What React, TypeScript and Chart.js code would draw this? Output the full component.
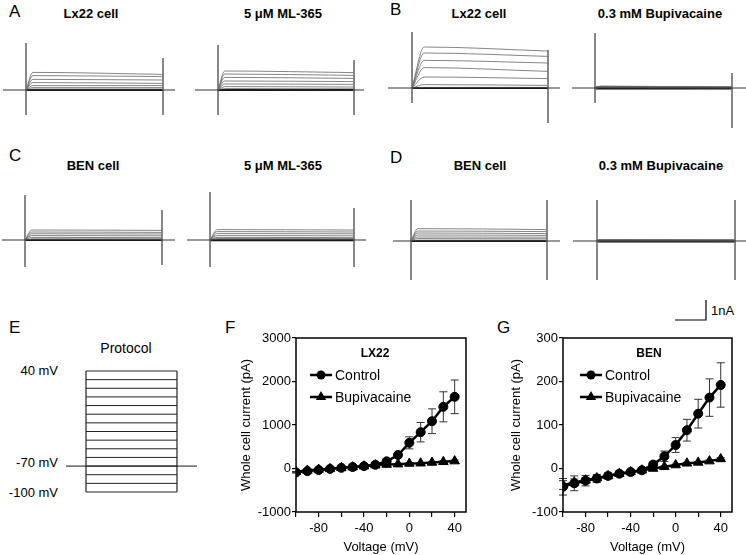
import React, { useEffect, useRef } from 'react';
import { Chart, registerables } from 'chart.js';
Chart.register(...registerables);

const FONT = '"Liberation Sans", Arial, Helvetica, sans-serif';
const NA_PX = 20; // pixels per nA in the current traces

// ---------- data ----------
const stepVoltages = [-100, -90, -80, -70, -60, -50, -40, -30, -20, -10, 0, 10, 20, 30, 40];
const holdingVoltage = -70;

// I-V data (pA)
const lx22Control = [-90, -60, -35, -10, 15, 35, 55, 85, 165, 310, 590, 835, 1087, 1418, 1648];
const lx22ControlErr = [15, 12, 10, 8, 8, 8, 8, 10, 20, 45, 138, 223, 284, 345, 387];
const lx22Bupi = [-77, -46, -23, -8, 15, 31, 54, 77, 90, 100, 115, 122, 138, 154, 170];
const lx22BupiErr = [10, 10, 10, 10, 10, 10, 10, 10, 10, 10, 15, 15, 20, 20, 25];

const benControl = [-42, -34, -28, -23, -17, -12, -8, -4, 9, 28, 54, 88, 126, 163, 192];
const benControlErr = [19, 17, 12, 9, 7, 6, 5, 4, 6, 12, 17, 25, 33, 43, 51];
const benBupi = [-38, -32, -27, -22, -17, -12, -8, -4, 0, 4, 8, 12, 14, 17, 22];
const benBupiErr = [10, 8, 6, 5, 4, 3, 3, 2, 2, 2, 2, 2, 2, 3, 3];

// current traces (nA) for steps -20..40 mV (lower steps sit on the baseline)
const traceVoltages = [-20, -10, 0, 10, 20, 30, 40];
const a1Start = [0.05, 0.12, 0.22, 0.37, 0.53, 0.72, 0.88];
const a1End = [0.05, 0.12, 0.22, 0.33, 0.5, 0.67, 0.78];
const a2Start = [0.07, 0.17, 0.3, 0.45, 0.63, 0.8, 0.95];
const a2End = [0.06, 0.15, 0.28, 0.42, 0.58, 0.73, 0.87];
const b1Start = [0.03, 0.17, 0.55, 1.02, 1.38, 1.75, 2.05];
const b1End = [0.03, 0.13, 0.47, 0.83, 1.25, 1.58, 1.85];
const b2Start = [0.02, 0.02, 0.03, 0.04, 0.05, 0.07, 0.1];
const b2End = [0.01, 0.01, 0.02, 0.02, 0.02, 0.03, 0.03];
const c1Start = [0.03, 0.06, 0.13, 0.22, 0.31, 0.4, 0.5];
const c1End = [0.03, 0.06, 0.12, 0.21, 0.3, 0.38, 0.48];
const c2Start = [0.03, 0.07, 0.13, 0.22, 0.32, 0.42, 0.52];
const c2End = [0.03, 0.06, 0.12, 0.21, 0.31, 0.4, 0.5];
const d1Start = [0.04, 0.12, 0.2, 0.3, 0.4, 0.5, 0.62];
const d1End = [0.04, 0.11, 0.19, 0.28, 0.37, 0.47, 0.57];
const d2Start = [0.01, 0.01, 0.02, 0.02, 0.03, 0.04, 0.06];
const d2End = [0.01, 0.01, 0.01, 0.02, 0.02, 0.02, 0.03];

// capacitive transients [on up, on down, off up, off down] (nA)
const a1Spikes = [2.35, -1.25, 1.6, -1.25];
const a2Spikes = [2.25, -1.25, 1.5, -1.25];
const b1Spikes = [2.8, -0.75, 1.9, -1.75];
const b2Spikes = [2.75, -0.75, 0.75, -2.0];
const c1Spikes = [2.25, -1.35, 1.5, -1.25];
const c2Spikes = [2.4, -1.35, 1.6, -1.35];
const d1Spikes = [2.05, -1.95, 2.05, -1.95];
const d2Spikes = [2.05, -1.95, 2.05, -1.95];

const scaleBarNA = 1;
const scaleBarSteps = 0.225; // fraction of the step duration

// ---------- layout ----------
type Panel = {
  left: number; right: number; on: number; off: number; base: number; top: number; bottom: number;
  start: number[]; end: number[]; spikes: number[]; rise: number; band: number; scaleBar?: { x: number; y: number };
};

const panels: Panel[] = [
  { left: 3, right: 175, on: 26, off: 163, base: 90, top: 30, bottom: 125, start: a1Start, end: a1End, spikes: a1Spikes, rise: 0.05, band: 1.8 },
  { left: 195, right: 364, on: 218, off: 354, base: 90, top: 30, bottom: 125, start: a2Start, end: a2End, spikes: a2Spikes, rise: 0.05, band: 2.2 },
  { left: 388, right: 560, on: 412, off: 548, base: 88, top: 25, bottom: 132, start: b1Start, end: b1End, spikes: b1Spikes, rise: 0.09, band: 1.8 },
  { left: 572, right: 746, on: 595, off: 732, base: 88, top: 25, bottom: 132, start: b2Start, end: b2End, spikes: b2Spikes, rise: 0.04, band: 3 },
  { left: 2, right: 175, on: 25, off: 162, base: 240, top: 182, bottom: 275, start: c1Start, end: c1End, spikes: c1Spikes, rise: 0.05, band: 1.8 },
  { left: 187, right: 366, on: 210, off: 354, base: 240, top: 182, bottom: 275, start: c2Start, end: c2End, spikes: c2Spikes, rise: 0.05, band: 2.6 },
  { left: 393, right: 560, on: 411, off: 547, base: 241, top: 190, bottom: 290, start: d1Start, end: d1End, spikes: d1Spikes, rise: 0.05, band: 1.8 },
  { left: 573, right: 746, on: 597, off: 735, base: 241, top: 190, bottom: 326, start: d2Start, end: d2End, spikes: d2Spikes, rise: 0.04, band: 3, scaleBar: { x: 706, y: 320 } },
];

const line = (data: { x: number; y: number }[], color: string, width: number, extra: any = {}) => ({
  data, showLine: true, borderColor: color, borderWidth: width, pointRadius: 0, tension: 0, ...extra,
});

function traceConfig(p: Panel) {
  const span = p.off - p.on;
  const xMin = (p.left - p.on) / span;
  const xMax = (p.right - p.on) / span;
  const yMax = (p.base - p.top) / NA_PX;
  const yMin = -(p.bottom - p.base) / NA_PX;
  const datasets: any[] = [];
  datasets.push(line([{ x: xMin, y: 0 }, { x: xMax, y: 0 }], '#333', 1));
  datasets.push(line([{ x: 0, y: p.spikes[0] }, { x: 0, y: p.spikes[1] }], '#777', 1));
  datasets.push(line([{ x: 1, y: p.spikes[2] }, { x: 1, y: p.spikes[3] }], '#777', 1));
  traceVoltages.forEach((_, i) => {
    datasets.push(line([{ x: 0, y: 0 }, { x: p.rise, y: p.start[i] }, { x: 1, y: p.end[i] }], '#666', 0.8, { cubicInterpolationMode: 'monotone' }));
  });
  datasets.push(line([{ x: 0, y: 0 }, { x: 1, y: 0 }], '#000', p.band));
  if (p.scaleBar) {
    const xa = (p.scaleBar.x - p.on) / span;
    const ya = -(p.scaleBar.y - p.base) / NA_PX;
    datasets.push(line([{ x: xa - scaleBarSteps, y: ya }, { x: xa, y: ya }, { x: xa, y: ya + scaleBarNA }], '#000', 1.2));
  }
  return {
    type: 'scatter',
    data: { datasets },
    options: {
      animation: false, responsive: false, devicePixelRatio: 1,
      layout: { padding: 0 },
      plugins: { legend: { display: false }, tooltip: { enabled: false } },
      scales: {
        x: { type: 'linear', display: false, min: xMin, max: xMax },
        y: { type: 'linear', display: false, min: yMin, max: yMax },
      },
    },
  };
}

// protocol layout
const proto = { left: 60, top: 360, width: 145, height: 140, boxLeft: 86, boxRight: 177, topPx: 371, bottomPx: 492, holdFrom: -0.22, holdTo: 1.22 };

function protocolConfig() {
  const bw = proto.boxRight - proto.boxLeft;
  const vTop = stepVoltages[stepVoltages.length - 1];
  const vBot = stepVoltages[0];
  const k = (proto.bottomPx - proto.topPx) / (vTop - vBot);
  const xMin = (proto.left - proto.boxLeft) / bw;
  const xMax = (proto.left + proto.width - proto.boxLeft) / bw;
  const yMax = vTop + (proto.topPx - proto.top) / k;
  const yMin = vBot - (proto.top + proto.height - proto.bottomPx) / k;
  const datasets: any[] = stepVoltages.map((v) => line([{ x: 0, y: v }, { x: 1, y: v }], '#222', 1));
  datasets.push(line([{ x: 0, y: vBot }, { x: 0, y: vTop }], '#222', 1.2));
  datasets.push(line([{ x: 1, y: vBot }, { x: 1, y: vTop }], '#222', 1.2));
  datasets.push(line([{ x: proto.holdFrom, y: holdingVoltage }, { x: proto.holdTo, y: holdingVoltage }], '#444', 1.2));
  return {
    type: 'scatter',
    data: { datasets },
    options: {
      animation: false, responsive: false, devicePixelRatio: 1,
      layout: { padding: 0 },
      plugins: { legend: { display: false }, tooltip: { enabled: false } },
      scales: {
        x: { type: 'linear', display: false, min: xMin, max: xMax },
        y: { type: 'linear', display: false, min: yMin, max: yMax },
      },
    },
  };
}

// ---------- IV charts ----------
const errorBars = {
  id: 'errorBars',
  beforeDatasetsDraw(chart: any) {
    const ctx = chart.ctx;
    const xs = chart.scales.x, ys = chart.scales.y;
    chart.data.datasets.forEach((ds: any) => {
      if (!ds.errors) return;
      ctx.save();
      ctx.strokeStyle = '#333';
      ctx.lineWidth = 1;
      ds.data.forEach((p: any, i: number) => {
        const e = ds.errors[i];
        if (!e) return;
        const x = xs.getPixelForValue(p.x);
        const y1 = ys.getPixelForValue(p.y + e);
        const y2 = ys.getPixelForValue(p.y - e);
        ctx.beginPath();
        ctx.moveTo(x, y1); ctx.lineTo(x, y2);
        ctx.moveTo(x - 4, y1); ctx.lineTo(x + 4, y1);
        ctx.moveTo(x - 4, y2); ctx.lineTo(x + 4, y2);
        ctx.stroke();
      });
      ctx.restore();
    });
  },
};

const frame = {
  id: 'frame',
  afterDatasetsDraw(chart: any) {
    const { ctx, chartArea: a } = chart;
    ctx.save();
    ctx.strokeStyle = '#000';
    ctx.lineWidth = 1.5;
    ctx.strokeRect(a.left, a.top, a.right - a.left, a.bottom - a.top);
    ctx.restore();
  },
};

function drawMarker(ctx: CanvasRenderingContext2D, style: string, x: number, y: number, r: number) {
  ctx.beginPath();
  if (style === 'circle') {
    ctx.arc(x, y, r, 0, Math.PI * 2);
  } else {
    let rad = 0;
    ctx.moveTo(x + Math.sin(rad) * r, y - Math.cos(rad) * r);
    rad += (2 * Math.PI) / 3;
    ctx.lineTo(x + Math.sin(rad) * r, y - Math.cos(rad) * r);
    rad += (2 * Math.PI) / 3;
    ctx.lineTo(x + Math.sin(rad) * r, y - Math.cos(rad) * r);
    ctx.closePath();
  }
  ctx.fill();
}

function insideLegend(title: string, titleDx: number, legendDx: number) {
  return {
    id: 'insideLegend',
    afterDatasetsDraw(chart: any) {
      const { ctx, chartArea: a } = chart;
      ctx.save();
      ctx.fillStyle = '#000';
      ctx.strokeStyle = '#000';
      ctx.font = `bold 12px ${FONT}`;
      ctx.textAlign = 'center';
      ctx.textBaseline = 'alphabetic';
      ctx.fillText(title, a.left + titleDx, a.top + 19);
      const items = [
        { label: chart.data.datasets[0].label, style: 'circle', r: 4.5, dy: 37 },
        { label: chart.data.datasets[1].label, style: 'triangle', r: 6, dy: 59 },
      ];
      ctx.font = `14px ${FONT}`;
      ctx.textAlign = 'left';
      items.forEach((it) => {
        const x0 = a.left + legendDx;
        const y = a.top + it.dy;
        ctx.lineWidth = 2.5;
        ctx.beginPath();
        ctx.moveTo(x0, y); ctx.lineTo(x0 + 22, y);
        ctx.stroke();
        drawMarker(ctx, it.style, x0 + 11, y, it.r);
        ctx.fillText(it.label, x0 + 25, y + 5);
      });
      ctx.restore();
    },
  };
}

function ivConfig(o: {
  control: number[]; controlErr: number[]; bupi: number[]; bupiErr: number[];
  yMin: number; yMax: number; yStep: number; yWidth: number; title: string; titleDx: number; legendDx: number;
}) {
  const tickFont = { family: FONT, size: 13 };
  return {
    type: 'scatter',
    data: {
      datasets: [
        {
          label: 'Control', data: stepVoltages.map((v, i) => ({ x: v, y: o.control[i] })), errors: o.controlErr,
          showLine: true, borderColor: '#000', borderWidth: 2.5, pointStyle: 'circle', pointRadius: 4.5,
          pointBackgroundColor: '#000', pointBorderColor: '#000', pointBorderWidth: 1, tension: 0,
        },
        {
          label: 'Bupivacaine', data: stepVoltages.map((v, i) => ({ x: v, y: o.bupi[i] })), errors: o.bupiErr,
          showLine: true, borderColor: '#000', borderWidth: 2.5, pointStyle: 'triangle', pointRadius: 5.5,
          pointBackgroundColor: '#000', pointBorderColor: '#000', pointBorderWidth: 1, tension: 0,
        },
      ],
    },
    options: {
      animation: false, responsive: false, devicePixelRatio: 1,
      layout: { padding: { top: 13, right: 14, left: 0, bottom: 0 } },
      plugins: { legend: { display: false }, tooltip: { enabled: false } },
      scales: {
        x: {
          type: 'linear', min: -100, max: 50,
          afterFit: (s: any) => { s.height = 43; },
          ticks: {
            stepSize: 20, includeBounds: false, autoSkip: false, maxRotation: 0, color: '#000', font: tickFont, padding: 4,
            callback: (v: number) => (v % 40 === 0 ? String(v) : ''),
          },
          grid: { display: true, drawOnChartArea: false, drawTicks: true, tickLength: 5, color: '#000', lineWidth: 1.2 },
          border: { display: false },
          title: { display: true, text: 'Voltage (mV)', color: '#000', font: tickFont, padding: { top: 0, bottom: 0 } },
        },
        y: {
          type: 'linear', min: o.yMin, max: o.yMax,
          afterFit: (s: any) => { s.width = o.yWidth; },
          ticks: { stepSize: o.yStep, color: '#000', font: tickFont, padding: 1, callback: (v: number) => String(v) },
          grid: { display: true, drawOnChartArea: false, drawTicks: true, tickLength: 4, color: '#000', lineWidth: 1.2 },
          border: { display: false },
          title: { display: true, text: 'Whole cell current (pA)', color: '#000', font: tickFont, padding: { top: 3, bottom: 0 } },
        },
      },
    },
    plugins: [errorBars, frame, insideLegend(o.title, o.titleDx, o.legendDx)],
  };
}

// ---------- components ----------
function ChartCanvas({ left, top, width, height, make }: { left: number; top: number; width: number; height: number; make: () => any }) {
  const ref = useRef<HTMLCanvasElement>(null);
  useEffect(() => {
    const chart = new Chart(ref.current as HTMLCanvasElement, make());
    return () => chart.destroy();
  }, []);
  return (
    <canvas ref={ref} width={width} height={height}
      style={{ position: 'absolute', left, top, width, height }} />
  );
}

function T({ x, y, text, size = 13, bold = false, align = 'left' }: { x: number; y: number; text: string; size?: number; bold?: boolean; align?: 'left' | 'center' | 'right' }) {
  const tx = align === 'center' ? 'translateX(-50%)' : align === 'right' ? 'translateX(-100%)' : 'none';
  return (
    <div style={{
      position: 'absolute', left: x, top: y - 0.8465 * size, fontFamily: FONT, fontSize: size,
      fontWeight: bold ? 'bold' : 'normal', lineHeight: `${size}px`, whiteSpace: 'nowrap', transform: tx, color: '#000',
    }}>{text}</div>
  );
}

export default function App() {
  return (
    <div style={{ position: 'absolute', left: 0, top: 0, width: 746, height: 555, background: '#fff', overflow: 'hidden' }}>
      <T x={9} y={17} text="A" size={17} />
      <T x={91} y={18} text="Lx22 cell" bold align="center" />
      <T x={283} y={18} text="5 μM ML-365" bold align="center" />
      <T x={390} y={15} text="B" size={17} />
      <T x={479} y={18} text="Lx22 cell" bold align="center" />
      <T x={660} y={18} text="0.3 mM Bupivacaine" bold align="center" />
      <T x={9} y={161} text="C" size={17} />
      <T x={93} y={170} text="BEN cell" bold align="center" />
      <T x={283} y={170} text="5 μM ML-365" bold align="center" />
      <T x={390} y={163} text="D" size={17} />
      <T x={480} y={170} text="BEN cell" bold align="center" />
      <T x={661} y={170} text="0.3 mM Bupivacaine" bold align="center" />
      <T x={711} y={315} text="1nA" size={13} />
      <T x={9} y={333} text="E" size={17} />
      <T x={126} y={353} text="Protocol" size={14} align="center" />
      <T x={58} y={375} text="40 mV" align="right" />
      <T x={58} y={467} text="-70 mV" align="right" />
      <T x={58} y={497} text="-100 mV" align="right" />
      <T x={225} y={333} text="F" size={17} />
      <T x={497} y={333} text="G" size={17} />

      {panels.map((p, i) => (
        <ChartCanvas key={i} left={p.left} top={p.top} width={p.right - p.left} height={p.bottom - p.top} make={() => traceConfig(p)} />
      ))}
      <ChartCanvas left={proto.left} top={proto.top} width={proto.width} height={proto.height} make={protocolConfig} />
      <ChartCanvas left={236} top={325} width={244} height={230} make={() => ivConfig({
        control: lx22Control, controlErr: lx22ControlErr, bupi: lx22Bupi, bupiErr: lx22BupiErr,
        yMin: -1000, yMax: 3000, yStep: 1000, yWidth: 60, title: 'LX22', titleDx: 79, legendDx: 14,
      })} />
      <ChartCanvas left={506} top={325} width={240} height={230} make={() => ivConfig({
        control: benControl, controlErr: benControlErr, bupi: benBupi, bupiErr: benBupiErr,
        yMin: -100, yMax: 300, yStep: 100, yWidth: 57, title: 'BEN', titleDx: 86, legendDx: 17,
      })} />
    </div>
  );
}
